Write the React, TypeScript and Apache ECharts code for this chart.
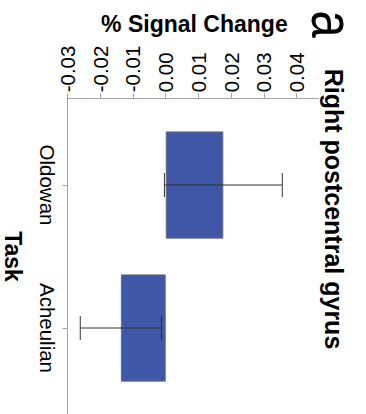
import React, { useEffect, useRef } from 'react';
import * as echarts from 'echarts';

const categories = ['Oldowan', 'Acheulian'];
const meanValues = [0.0176, -0.0137];
const errorValues = [0.018, 0.0124];
const tickValues = [-0.03, -0.02, -0.01, 0.0, 0.01, 0.02, 0.03, 0.04];
const valueMin = -0.03;
const valueMax = 0.0466;

const FONT = '"Liberation Sans", Arial, Helvetica, sans-serif';
const AXIS_GRAY = '#a3a3a3';

export default function App() {
  const ref = useRef<HTMLDivElement>(null);

  useEffect(() => {
    if (!ref.current) return;
    const chart = echarts.init(ref.current, null, { renderer: 'svg' });
    const errData = categories.map((_, i) => [
      i,
      meanValues[i] - errorValues[i],
      meanValues[i] + errorValues[i],
    ]);

    chart.setOption({
      animation: false,
      backgroundColor: '#ffffff',
      grid: [
        { left: 67.5, right: 47.7, top: 98.3, bottom: 0, outerBoundsMode: 'none', containLabel: false },
        { left: 67.5, right: 47.7, top: 113.5, bottom: 14.5, outerBoundsMode: 'none', containLabel: false },
      ],
      xAxis: [
        {
          gridIndex: 0,
          type: 'value',
          position: 'top',
          min: valueMin,
          max: valueMax,
          axisLine: { show: true, onZero: false, lineStyle: { color: AXIS_GRAY, width: 1 } },
          axisTick: {
            show: true,
            length: 5,
            customValues: tickValues,
            lineStyle: { color: AXIS_GRAY, width: 1 },
          },
          axisLabel: {
            customValues: tickValues,
            rotate: -90,
            margin: 6,
            fontSize: 20.5,
            color: '#000',
            fontFamily: FONT,
            padding: [10, 0, 0, 0],
            formatter: (v: number) => v.toFixed(2),
          },
          splitLine: { show: false },
          name: '% Signal Change',
          nameLocation: 'middle',
          nameGap: 63.3,
          nameTextStyle: {
            fontSize: 23,
            fontWeight: 'bold',
            color: '#000',
            fontFamily: FONT,
            padding: [0, 0, 0, 3],
          },
        },
        {
          gridIndex: 1,
          type: 'value',
          min: valueMin,
          max: valueMax,
          show: false,
        },
      ],
      yAxis: [
        {
          gridIndex: 0,
          type: 'value',
          axisLine: { show: true, onZero: false, lineStyle: { color: AXIS_GRAY, width: 1 } },
          axisTick: { show: false },
          axisLabel: { show: false },
          splitLine: { show: false },
        },
        {
          gridIndex: 1,
          type: 'category',
          data: categories,
          inverse: true,
          axisLine: { show: false, onZero: false },
          axisTick: {
            show: true,
            alignWithLabel: true,
            length: 5,
            lineStyle: { color: AXIS_GRAY, width: 1 },
          },
          axisLabel: {
            rotate: -90,
            margin: 10,
            fontSize: 20.5,
            color: '#000',
            fontFamily: FONT,
          },
          splitLine: { show: false },
          name: 'Task',
          nameLocation: 'middle',
          nameRotate: -90,
          nameGap: 43.5,
          nameTextStyle: {
            fontSize: 23,
            fontWeight: 'bold',
            color: '#000',
            fontFamily: FONT,
          },
        },
      ],
      series: [
        {
          type: 'bar',
          xAxisIndex: 1,
          yAxisIndex: 1,
          data: meanValues,
          barWidth: '75%',
          itemStyle: { color: '#4057a8', borderColor: '#6a6d80', borderWidth: 1 },
          z: 2,
        },
        {
          type: 'custom',
          xAxisIndex: 1,
          yAxisIndex: 1,
          data: errData,
          encode: { x: [1, 2], y: 0 },
          z: 10,
          renderItem: (params: any, api: any) => {
            const cat = api.value(0);
            const lo = api.coord([api.value(1), cat]);
            const hi = api.coord([api.value(2), cat]);
            const h = 12;
            const style = { stroke: '#333333', lineWidth: 1 };
            return {
              type: 'group',
              children: [
                { type: 'line', shape: { x1: lo[0], y1: lo[1], x2: hi[0], y2: hi[1] }, style },
                { type: 'line', shape: { x1: lo[0], y1: lo[1] - h, x2: lo[0], y2: lo[1] + h }, style },
                { type: 'line', shape: { x1: hi[0], y1: hi[1] - h, x2: hi[0], y2: hi[1] + h }, style },
              ],
            };
          },
        },
      ],
      graphic: [
        {
          type: 'text',
          x: 333.7,
          y: 209,
          rotation: -Math.PI / 2,
          style: {
            text: 'Right postcentral gyrus',
            fontSize: 25,
            fontWeight: 'bold',
            fontFamily: FONT,
            fill: '#000',
            align: 'center',
            verticalAlign: 'middle',
            textAlign: 'center',
            textVerticalAlign: 'middle',
          },
        },
        {
          type: 'text',
          x: 332.3,
          y: 24.2,
          rotation: -Math.PI / 2,
          scaleX: 1.11,
          scaleY: 1.33,
          style: {
            text: 'a',
            fontSize: 44,
            fontFamily: FONT,
            fill: '#000',
            align: 'center',
            verticalAlign: 'middle',
            textAlign: 'center',
            textVerticalAlign: 'middle',
          },
        },
      ],
    });

    return () => {
      chart.dispose();
    };
  }, []);

  return (
    <div
      ref={ref}
      style={{ position: 'absolute', left: 0, top: 0, width: 366, height: 414 }}
    />
  );
}
